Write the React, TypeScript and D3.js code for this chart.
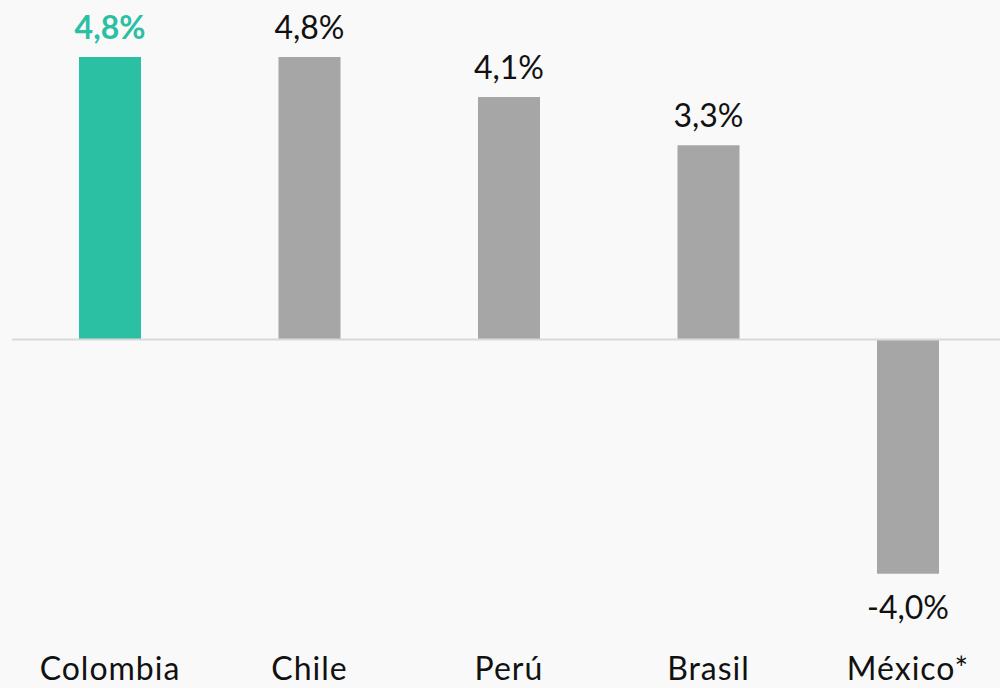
import React from "react";
import * as d3 from "d3";

const categories = ["Colombia", "Chile", "Perú", "Brasil", "México*"];
const values = [4.8, 4.8, 4.12, 3.3, -3.98];
const valueLabels = ["4,8%", "4,8%", "4,1%", "3,3%", "-4,0%"];
const highlight = "Colombia";

const W = 1000;
const H = 688;
const FONT = "Lato, 'Open Sans', sans-serif";

export default function App() {
  const x = d3.scalePoint<string>().domain(categories).range([110, 908]);
  const y = d3.scaleLinear().domain([0, 4.8]).range([339.5, 57]);
  const barW = 62;
  const teal = "#2bbfa4";
  const gray = "#a6a6a6";
  return (
    <svg
      width={W}
      height={H}
      style={{ position: "fixed", left: 0, top: 0, background: "#f9f9f9" }}
    >
      <rect x={0} y={0} width={W} height={H} fill="#f9f9f9" />
      {categories.map((c, i) => {
        const v = values[i];
        const cx = x(c)!;
        const y0 = y(0);
        const yv = y(v);
        const isH = c === highlight;
        return (
          <g key={c}>
            <rect
              x={cx - barW / 2}
              y={Math.min(y0, yv)}
              width={barW}
              height={Math.abs(yv - y0)}
              fill={isH ? teal : gray}
            />
            <text
              x={cx}
              y={v >= 0 ? yv - 18 : yv + 45}
              textAnchor="middle"
              fontFamily={FONT}
              fontSize={32}
              fontWeight={isH ? 700 : 400}
              fill={isH ? teal : "#111"}
            >
              {valueLabels[i]}
            </text>
            <text
              x={cx}
              y={680}
              textAnchor="middle"
              fontFamily={FONT}
              fontSize={32}
              letterSpacing={1}
              fill="#111"
            >
              {c}
            </text>
          </g>
        );
      })}
      <line x1={12} x2={W} y1={y(0)} y2={y(0)} stroke="#d9d9d9" strokeWidth={2} />
    </svg>
  );
}
